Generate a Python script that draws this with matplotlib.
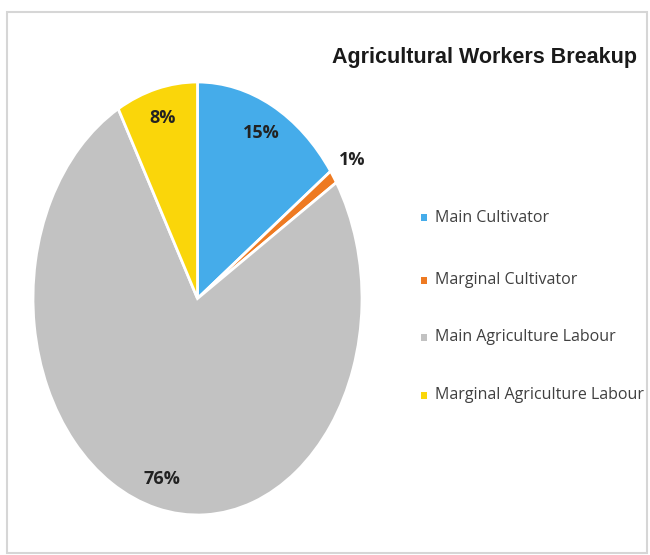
import numpy as np
import matplotlib
matplotlib.use('Agg')
import matplotlib.pyplot as plt
from matplotlib.patches import Rectangle

# workers share (percent)
categories = ['Main Cultivator', 'Marginal Cultivator',
              'Main Agriculture Labour', 'Marginal Agriculture Labour']
shares = [15, 1, 76, 8]
colors = ['#45ACEA', '#EE7A22', '#C2C2C2', '#FAD60A']

plt.rcParams['font.family'] = ['Open Sans', 'DejaVu Sans']

fig = plt.figure(figsize=(6.5, 5.55), dpi=100)
W, H = 650.0, 555.0

# outer frame
fig.patches.append(Rectangle((7 / W, 2 / H), 640 / W, 541 / H, transform=fig.transFigure,
                             fill=False, edgecolor='#D6D6D6', linewidth=1.5))

# pie sits in its own axes, stretched taller than wide
ax = fig.add_axes([33 / W, (H - 515) / H, 329 / W, 433 / H])
wedges, texts, autotexts = ax.pie(shares, colors=colors, startangle=90, counterclock=False,
                                  radius=1.0, autopct='%d%%', pctdistance=0.86,
                                  wedgeprops=dict(edgecolor='white', linewidth=2),
                                  textprops=dict(fontsize=13, fontweight='bold', color='#222222'))
ax.set_aspect('auto')
ax.set_xlim(-1, 1)
ax.set_ylim(-1, 1)
ax.axis('off')

# the tiny slice gets its label outside
w = wedges[1]
mid = np.deg2rad((w.theta1 + w.theta2) / 2)
autotexts[1].set_position((1.14 * np.cos(mid), 1.14 * np.sin(mid)))

fig.text(485 / W, 1 - 57 / H, 'Agricultural Workers Breakup', ha='center', va='center',
         fontsize=15.5, fontweight='bold', color='#1A1A1A',
         family=['Liberation Sans', 'DejaVu Sans'])

# legend
leg_y = [218, 280, 337, 395]
for name, c, y in zip(categories, colors, leg_y):
    fig.patches.append(Rectangle((421 / W, 1 - (y + 3.5) / H), 6 / W, 7 / H,
                                 transform=fig.transFigure, facecolor=c, edgecolor='none'))
    fig.text(435 / W, 1 - y / H, name, ha='left', va='center', fontsize=11.5, color='#404040')

fig.savefig('out.png', dpi=100, facecolor='white')
